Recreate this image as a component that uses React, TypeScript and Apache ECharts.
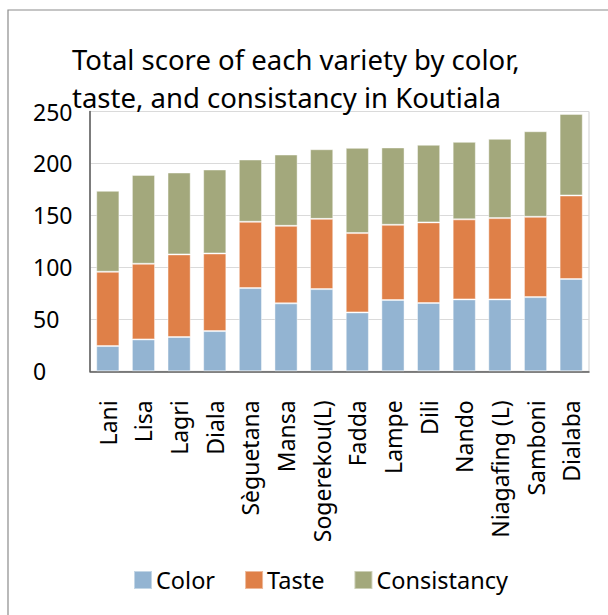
import React, { useEffect, useRef } from "react";
import * as echarts from "echarts";

const categories = [
  "Lani", "Lisa", "Lagri", "Diala", "Sèguetana", "Mansa", "Sogerekou(L)",
  "Fadda", "Lampe", "Dili", "Nando", "Niagafing (L)", "Samboni", "Dialaba",
];
const colorScores = [24.3, 30.7, 33, 38.7, 80.1, 65.4, 79.1, 56.7, 68.6, 65.7, 69.2, 69.2, 71.4, 88.8];
const tasteScores = [71.5, 72.8, 79.5, 74.7, 63.8, 74.6, 67.6, 76.3, 72.4, 77.6, 77, 78.2, 77.3, 80.4];
const consistancyScores = [77.9, 85.5, 78.8, 80.8, 59.9, 68.6, 67, 82, 74.4, 74.7, 74.6, 76.3, 82.3, 78.5];
const seriesNames = ["Color", "Taste", "Consistancy"];
const seriesColors = ["#93B4D2", "#DF8048", "#A3A87C"];
const yTicks = { min: 0, max: 250, interval: 50 };

const FONT = "Noto Sans";

export default function App() {
  const ref = useRef<HTMLDivElement>(null);
  useEffect(() => {
    if (!ref.current) return;
    const chart = echarts.init(ref.current, null, { renderer: "svg" });
    const values = [colorScores, tasteScores, consistancyScores];
    chart.setOption({
      animation: false,
      backgroundColor: "#ffffff",
      textStyle: { fontFamily: FONT },
      graphic: [
        {
          type: "rect",
          shape: { x: 8, y: 10, width: 620, height: 640 },
          style: { fill: "none", stroke: "#8c8c8c", lineWidth: 1.2 },
          silent: true,
          z: -10,
        },
      ],
      title: {
        text: "Total score of each variety by color,\ntaste, and consistancy in Koutiala",
        left: 72,
        top: 40,
        padding: 0,
        textStyle: {
          fontFamily: FONT,
          fontSize: 27.5,
          fontWeight: "normal",
          color: "#000000",
          lineHeight: 38,
        },
      },
      legend: {
        left: 133,
        top: 568,
        padding: 0,
        itemWidth: 18,
        itemHeight: 18,
        itemGap: 29,
        icon: "rect",
        textStyle: { fontFamily: FONT, fontSize: 23.5, color: "#000000", padding: [0, 0, 0, -1] },
        data: seriesNames,
      },
      grid: {
        left: 90,
        right: 19,
        top: 111.5,
        bottom: 243.7,
        show: true,
        borderColor: "#cfcfcf",
        borderWidth: 1,
      },
      xAxis: {
        type: "category",
        data: categories,
        axisLine: { show: true, lineStyle: { color: "#595959", width: 1.5 } },
        axisTick: { show: false },
        axisLabel: {
          rotate: 90,
          interval: 0,
          margin: 29,
          fontFamily: FONT,
          fontSize: 23,
          color: "#000000",
        },
      },
      yAxis: {
        type: "value",
        min: yTicks.min,
        max: yTicks.max,
        interval: yTicks.interval,
        axisLine: { show: true, lineStyle: { color: "#595959", width: 1.5 } },
        axisTick: { show: false },
        splitLine: { show: true, lineStyle: { color: "#dadada", width: 1 } },
        axisLabel: {
          align: "left",
          margin: 57,
          fontFamily: FONT,
          fontSize: 23,
          color: "#000000",
        },
      },
      series: seriesNames.map((name, i) => ({
        name,
        type: "bar",
        stack: "total",
        barCategoryGap: "35%",
        data: values[i],
        itemStyle: {
          color: seriesColors[i],
          borderColor: "rgba(255,255,255,0.45)",
          borderWidth: 1,
        },
      })),
    });
    return () => chart.dispose();
  }, []);
  return (
    <div
      ref={ref}
      style={{ position: "fixed", left: 0, top: 0, width: 608, height: 615 }}
    />
  );
}
